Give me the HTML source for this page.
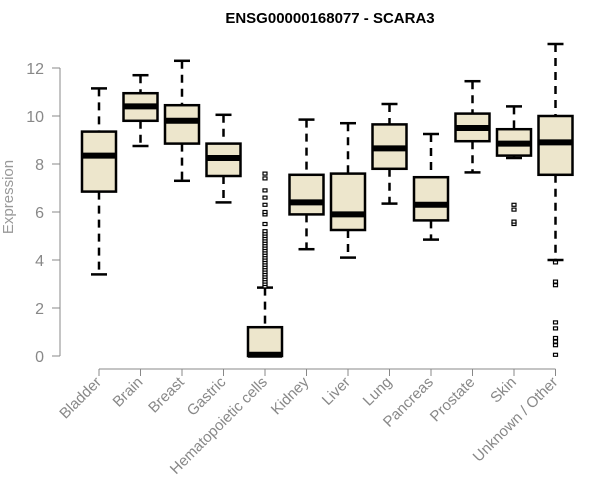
<!DOCTYPE html>
<html><head><meta charset="utf-8"><style>
body{margin:0;background:#fff}
svg{display:block;font-family:"Liberation Sans",sans-serif}
</style></head><body>
<svg id="chart" width="600" height="500" viewBox="0 0 600 500">
<text x="330" y="23" text-anchor="middle" font-weight="bold" font-size="15" fill="#000">ENSG00000168077 - SCARA3</text>
<text transform="translate(13,197) rotate(-90)" text-anchor="middle" font-size="15" fill="#999">Expression</text>
<g id="axes"></g><g id="boxes"></g>
</svg>
<script>
const categories=["Bladder","Brain","Breast","Gastric","Hematopoietic cells","Kidney","Liver","Lung","Pancreas","Prostate","Skin","Unknown / Other"];
const mins=[3.4,8.75,7.3,6.4,0,4.45,4.1,6.35,4.85,7.65,8.25,4.0];
const q1s=[6.85,9.8,8.85,7.5,0,5.9,5.25,7.8,5.65,8.95,8.35,7.55];
const medians=[8.35,10.4,9.8,8.25,0.05,6.4,5.9,8.65,6.3,9.5,8.85,8.9];
const q3s=[9.35,10.95,10.45,8.85,1.2,7.55,7.6,9.65,7.45,10.1,9.45,10.0];
const maxs=[11.15,11.7,12.3,10.05,2.85,9.85,9.7,10.5,9.25,11.45,10.4,13.0];
const outliers=[[],[],[],[],[2.9,3.0,3.1,3.2,3.3,3.4,3.5,3.6,3.7,3.8,3.9,4.0,4.1,4.2,4.3,4.4,4.5,4.6,4.7,4.8,4.9,5.0,5.1,5.2,5.5,5.9,6.0,6.3,6.6,6.9,7.4,7.6],[],[],[],[],[],[5.5,5.6,6.1,6.3],[3.9,3.1,2.95,1.4,1.15,0.75,0.6,0.45,0.05]];
const yTicks=[0,2,4,6,8,10,12];
const NS="http://www.w3.org/2000/svg";
const y=v=>356-v*24;
const x=i=>99+i*41.5;
const bw=34;
function mk(tag,attrs,parent){const e=document.createElementNS(NS,tag);for(const k in attrs)e.setAttribute(k,attrs[k]);parent.appendChild(e);return e;}
const axes=document.getElementById('axes'),boxes=document.getElementById('boxes');
let l=mk('line',{x1:60,x2:60,y1:y(12),y2:y(0),stroke:'#888'},axes);


yTicks.forEach(t=>{
 let tk=mk('line',{x1:52,x2:60,y1:y(t),y2:y(t),stroke:'#888'},axes);
 
 
 let tx=mk('text',{x:44,y:y(t)+6,'text-anchor':'end','font-size':16,fill:'#888'},axes);
 tx.textContent=t;
 
 
});
l=mk('line',{x1:x(0),x2:x(categories.length-1),y1:369,y2:369,stroke:'#888'},axes);


categories.forEach((c,i)=>{
 const cx=x(i);
 let tk=mk('line',{x1:cx,x2:cx,y1:369,y2:376,stroke:'#888'},axes);
 
 
 let tx=mk('text',{transform:`translate(${cx+3},${383}) rotate(-45)`,'text-anchor':'end','font-size':15,fill:'#888'},axes);
 tx.textContent=c;
 
 
 const g=mk('g',{},boxes);
 
 
 mk('line',{x1:cx,x2:cx,y1:y(maxs[i]),y2:y(q3s[i]),stroke:'#000','stroke-width':2.5,'stroke-dasharray':'8,6'},g);
 mk('line',{x1:cx,x2:cx,y1:y(q1s[i]),y2:y(mins[i]),stroke:'#000','stroke-width':2.5,'stroke-dasharray':'8,6'},g);
 mk('line',{x1:cx-8,x2:cx+8,y1:y(maxs[i]),y2:y(maxs[i]),stroke:'#000','stroke-width':2.5},g);
 mk('line',{x1:cx-8,x2:cx+8,y1:y(mins[i]),y2:y(mins[i]),stroke:'#000','stroke-width':2.5},g);
 mk('rect',{x:cx-bw/2,y:y(q3s[i]),width:bw,height:y(q1s[i])-y(q3s[i]),fill:'#ede6cc',stroke:'#000','stroke-width':2.5},g);
 mk('line',{x1:cx-bw/2,x2:cx+bw/2,y1:y(medians[i]),y2:y(medians[i]),stroke:'#000','stroke-width':6},g);
 outliers[i].forEach(v=>{
  let o=mk('rect',{x:cx-2,y:y(v)-1.5,width:4,height:3,fill:'#fff',stroke:'#000','stroke-width':1.2},g);
  
  
 });
});
</script>
</body></html>
